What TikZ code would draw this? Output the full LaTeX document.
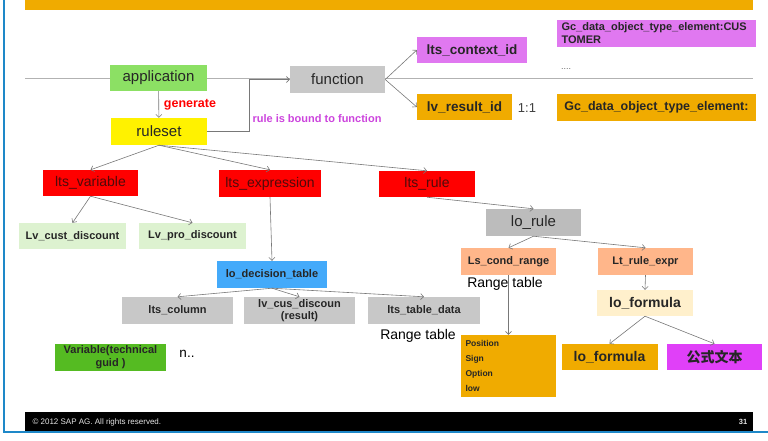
\documentclass[tikz,border=0pt]{standalone}
\usepackage{fontspec}
\setmainfont{Liberation Sans}
\newfontfamily\cjk{Noto Sans CJK SC}
\usepackage{xcolor}
\usepackage{tikz}
\usetikzlibrary{arrows.meta, positioning}
\definecolor{sapgold}{RGB}{240,171,0}
\definecolor{appgreen}{RGB}{140,224,100}
\definecolor{boxgray}{RGB}{200,200,200}
\definecolor{rulegray}{RGB}{188,188,188}
\definecolor{ctxviolet}{RGB}{224,120,240}
\definecolor{exprred}{RGB}{255,0,0}
\definecolor{exprtext}{RGB}{80,10,10}
\definecolor{palegreen}{RGB}{221,242,208}
\definecolor{tableblue}{RGB}{68,170,250}
\definecolor{salmon}{RGB}{255,182,138}
\definecolor{cream}{RGB}{255,240,204}
\definecolor{guidgreen}{RGB}{85,187,34}
\definecolor{textmagenta}{RGB}{204,68,221}
\definecolor{cjkmagenta}{RGB}{224,64,248}
\definecolor{frameblue}{RGB}{30,136,200}
\definecolor{linkgray}{RGB}{120,120,120}
\newcommand{\fsz}[1]{\fontsize{#1}{#1}\selectfont}

\begin{document}
\begin{tikzpicture}[x=1pt, y=-1pt,
    box/.style={inner sep=0pt, minimum width=95pt, minimum height=26pt, align=center, text=black!85},
    link/.style={draw=linkgray, line width=0.6pt, -{Straight Barb[length=3pt,width=6pt]}},
    ]
\useasboundingbox (0,0) rectangle (768,440);

% Slide frame
\fill[sapgold] (25,0) rectangle (753,10);
\draw[frameblue, line width=1.2pt] (4,0) -- (4,432) -- (768,432);
\fill[black] (25,412) rectangle (753,431);
\node[anchor=west, text=white!80!gray, font=\fsz{8}] (copy) at (29,422) {\textcopyright{} 2012 SAP AG. All rights reserved.};
\node[text=white!80!gray, font=\fsz{7.5}\bfseries] (page) at (743,422) {31};
\draw[gray!60, line width=0.7pt] (25,78) -- (753,78);

% Application, ruleset and function
\node[box, fill=appgreen, minimum width=97pt, font=\fsz{15}] (app) at (158.5,78) {application};
\node[box, fill=yellow, minimum width=96pt, minimum height=27pt, font=\fsz{15}] (ruleset) at (159,131.5) {ruleset};
\node[box, fill=boxgray, minimum height=27pt, font=\fsz{15}] (func) at (337.5,79.5) {function};
\node[text=red, font=\fsz{12.5}\bfseries] (gen) at (190,105) {generate};
\node[text=textmagenta, font=\fsz{11}\bfseries] (bound) at (317,119) {rule is bound to function};
\draw[link] (app) -- (ruleset);
\draw[link] (ruleset.east) -- ++(42,0) |- (func.west);

% Context and result
\node[box, fill=ctxviolet, minimum width=110pt, font=\fsz{13.5}\bfseries] (ctxid) at (472,50) {lts\_context\_id};
\node[box, fill=sapgold, font=\fsz{13.5}\bfseries] (resid) at (464.5,107) {lv\_result\_id};
\node[text=black!75, font=\fsz{13}] (ratio) at (527,108) {1:1};
\node[box, fill=ctxviolet, minimum width=199pt, minimum height=27pt, text width=190pt, align=left, font=\fsz{11}\bfseries] (gctop) at (656.5,33.5) {Gc\_data\_object\_type\_element:CUS\\[2pt]TOMER};
\node[text=black!60, font=\fsz{9}] (dots) at (566,69) {....};
\node[box, fill=sapgold, minimum width=199pt, minimum height=27pt, font=\fsz{12.5}\bfseries] (gcbot) at (656.5,107.5) {Gc\_data\_object\_type\_element:};
\draw[link] (func.east) -- (ctxid.west);
\draw[link] (func.east) -- (resid.west);

% Ruleset parts
\node[box, fill=exprred, text=exprtext, font=\fsz{14}] (var) at (90.5,183) {lts\_variable};
\node[box, fill=exprred, text=exprtext, minimum width=102pt, minimum height=27pt, font=\fsz{14}] (expr) at (270,183.5) {lts\_expression};
\node[box, fill=exprred, text=exprtext, minimum width=96pt, font=\fsz{14}] (rule) at (427,184) {lts\_rule};
\draw[link] (ruleset.south) -- (var.north);
\draw[link] (ruleset.south) -- (expr.north);
\draw[link] (ruleset.south) -- (rule.north);

% Variables
\node[box, fill=palegreen, minimum width=107pt, font=\fsz{11}\bfseries] (cust) at (72.5,236) {Lv\_cust\_discount};
\node[box, fill=palegreen, minimum width=107pt, font=\fsz{11}\bfseries] (pro) at (192.5,236) {Lv\_pro\_discount};
\draw[link] (var.south) -- (cust.north);
\draw[link] (var.south) -- (pro.north);

% Decision table
\node[box, fill=tableblue, minimum width=110pt, minimum height=27pt, font=\fsz{11}\bfseries] (dtab) at (272,274.5) {lo\_decision\_table};
\node[box, fill=boxgray, minimum width=111pt, minimum height=27pt, font=\fsz{11}\bfseries] (col) at (177.5,310.5) {lts\_column};
\node[box, fill=boxgray, minimum width=111pt, minimum height=27pt, font=\fsz{11}\bfseries] (cusd) at (299.5,310.5) {lv\_cus\_discoun\\[1pt](result)};
\node[box, fill=boxgray, minimum width=112pt, minimum height=27pt, font=\fsz{11}\bfseries] (tdata) at (424,310.5) {lts\_table\_data};
\node[font=\fsz{14}] (rangeb) at (418,336) {Range table};
\draw[link] (expr.south) -- (dtab.north);
\draw[link] (dtab.south) -- (col.north);
\draw[link] (dtab.south) -- (cusd.north);
\draw[link] (dtab.south) -- (tdata.north);
\node[box, fill=guidgreen, minimum width=111pt, minimum height=27pt, font=\fsz{11}\bfseries] (guid) at (110.5,357.5) {Variable(technical\\[2pt]guid )};
\node[font=\fsz{13.5}] (more) at (187,354) {n..};

% Rule side
\node[box, fill=rulegray, minimum height=27pt, font=\fsz{15}] (lorule) at (533.5,222.5) {lo\_rule};
\node[box, fill=salmon, minimum height=27pt, font=\fsz{11}\bfseries] (cond) at (508.5,261.5) {Ls\_cond\_range};
\node[box, fill=salmon, minimum height=27pt, font=\fsz{11}\bfseries] (rexpr) at (645.5,261.5) {Lt\_rule\_expr};
\node[font=\fsz{14}] (rangea) at (505,284) {Range table};
\node[box, fill=sapgold, minimum height=62pt, text width=86pt, align=left, font=\fsz{8.5}\bfseries] (pos) at (508.5,366) {Position\\[6.7pt]Sign\\[6.7pt]Option\\[6.7pt]low};
\draw[link] (rule.south) -- (lorule.north);
\draw[link] (lorule.south) -- (cond.north);
\draw[link] (lorule.south) -- (rexpr.north);
\draw[link] (cond.south) -- (pos.north);

% Formula
\node[box, fill=cream, minimum width=96pt, font=\fsz{14}\bfseries] (form) at (645,303) {lo\_formula};
\node[box, fill=sapgold, minimum width=96pt, font=\fsz{14}\bfseries] (formb) at (609.5,357) {lo\_formula};
\node[box, fill=cjkmagenta, font=\fsz{14}\bfseries] (text) at (714.5,357) {\cjk 公式文本};
\draw[link] (rexpr.south) -- (form.north);
\draw[link] (form.south) -- (formb.north);
\draw[link] (form.south) -- (text.north);
\end{tikzpicture}
\end{document}
